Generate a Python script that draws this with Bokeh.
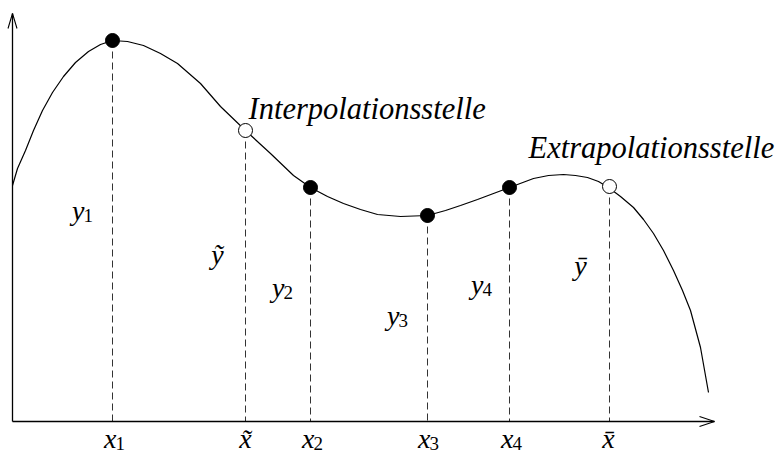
from bokeh.plotting import figure
from bokeh.models import Range1d
from bokeh.core.properties import value
from bokeh.embed import file_html
from bokeh.resources import INLINE

# ---- data (screen-like units: x to the right, y downward) ----
curve_x = [12, 17, 25, 33, 42, 52, 63, 75, 88, 100, 112, 127, 143, 160, 177, 200, 220, 245,
           270, 293, 310, 327, 343, 360, 377, 400, 427, 445, 460, 477, 493, 509, 533, 548,
           563, 575, 587, 598, 608, 620, 633, 643, 653, 663, 673, 682, 690, 700, 708]
curve_y = [185, 168, 150, 130, 110, 92, 76, 62, 51, 44, 40, 41, 45, 53, 63, 83, 106, 130,
           153, 175, 187, 196, 203, 209, 214, 216, 215, 210, 205, 199, 193, 187, 178, 175,
           174, 175, 177, 181, 187, 196, 207, 219, 233, 250, 270, 290, 310, 347, 392]

knot_x = [112, 310, 427, 509]
knot_y = [40, 187, 215, 187]
probe_x = [245, 609]
probe_y = [130, 186]

origin = (12, 421)
x_axis_end = 714
y_axis_end = 13

x_label_text = ["x", "x\u0303", "x", "x", "x", "x\u0304"]
x_label_sub = ["1", "", "2", "3", "4", ""]
x_label_pos = [112, 245, 310, 426, 509, 608]
x_label_base = [446, 446, 446, 446, 446, 446]

y_label_text = ["y", "\u1ef9", "y", "y", "y", "\u0233"]
y_label_sub = ["1", "", "2", "3", "4", ""]
y_label_x = [80, 217, 280, 395, 479, 580]
y_label_base = [218, 262, 295, 323, 292, 273]

word_text = ["Interpolationsstelle", "Extrapolationsstelle"]
word_x = [248, 528]
word_y = [116, 155]

W, H = 775, 454
DY = -8  # renderer places alphabetic baselines a little low; compensate

p = figure(width=W, height=H, x_range=Range1d(0, W), y_range=Range1d(H, 0),
           output_backend="svg", toolbar_location=None, min_border=0,
           background_fill_color="white", border_fill_color="white")
p.axis.visible = False
p.grid.visible = False
p.outline_line_color = None

# dashed verticals
vx = knot_x + probe_x
vy = knot_y + probe_y
p.segment(x0=vx, y0=vy, x1=vx, y1=[origin[1]] * len(vx), line_color="#333333",
          line_width=1, line_dash="7 4")

# axes with open arrow heads
ox, oy = origin
p.line([ox, x_axis_end], [oy, oy], line_color="black", line_width=1.3)
p.line([ox, ox], [oy, y_axis_end], line_color="black", line_width=1.3)
p.line([x_axis_end - 15, x_axis_end, x_axis_end - 15], [oy - 5, oy, oy + 5],
       line_color="black", line_width=1.1)
p.line([ox - 4.5, ox, ox + 4.5], [y_axis_end + 15, y_axis_end, y_axis_end + 15],
       line_color="black", line_width=1.1)

# curve
p.line(curve_x, curve_y, line_color="black", line_width=1.2)

# points
p.scatter(knot_x, knot_y, size=14, marker="circle", fill_color="black", line_color="black")
p.scatter(probe_x, probe_y, size=14, marker="circle", fill_color="white",
          line_color="black", line_width=1)

serif = value("Liberation Serif")

def math_labels(texts, subs, cx, base):
    bx, sx, st, by, sy, bt = [], [], [], [], [], []
    for t, s, x, b in zip(texts, subs, cx, base):
        b = b + DY
        if s:
            bx.append(x + 4); by.append(b); bt.append(t)
            sx.append(x + 3); sy.append(b + 5); st.append(s)
        else:
            p.text([x], [b], text=[t], text_font=serif, text_font_style="italic",
                   text_font_size="28px", text_align="center", text_baseline="alphabetic",
                   text_color="black")
    p.text(bx, by, text=bt, text_font=serif, text_font_style="italic",
           text_font_size="28px", text_align="right", text_baseline="alphabetic",
           text_color="black")
    p.text(sx, sy, text=st, text_font=serif, text_font_size="19px", text_align="left",
           text_baseline="alphabetic", text_color="black")

math_labels(x_label_text, x_label_sub, x_label_pos, x_label_base)
math_labels(y_label_text, y_label_sub, y_label_x, y_label_base)

p.text(word_x, [v + DY for v in word_y], text=word_text, text_font=serif,
       text_font_style="italic", text_font_size="30.5px", text_align="left",
       text_baseline="alphabetic", text_color="black")

open("out.html", "w").write(file_html(p, INLINE))
